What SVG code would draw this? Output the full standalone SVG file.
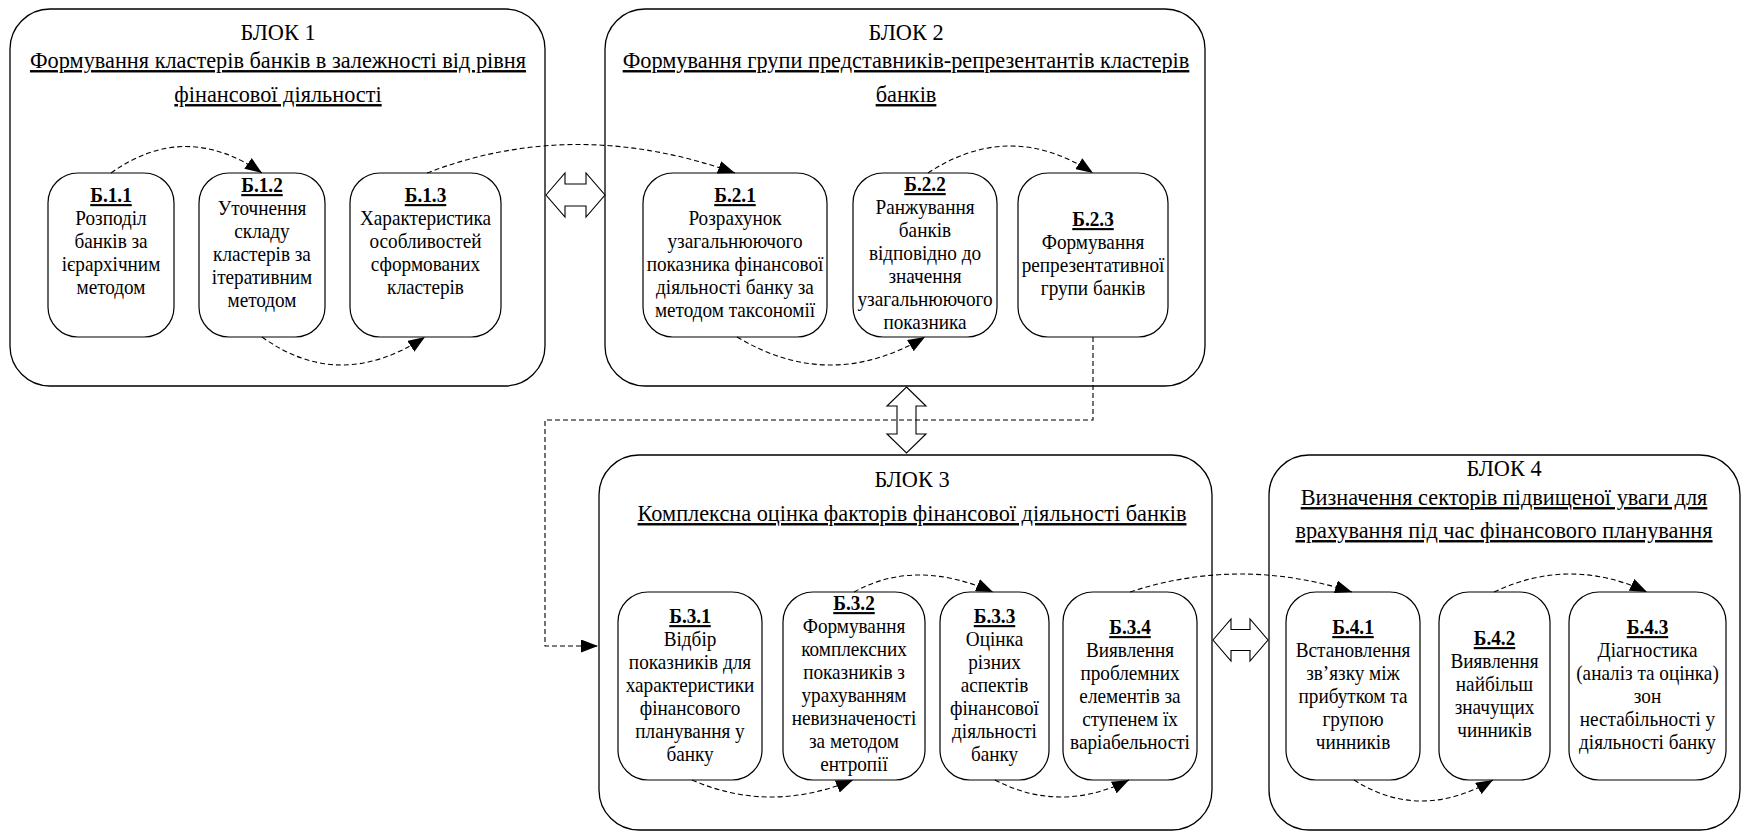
<svg xmlns="http://www.w3.org/2000/svg" width="1743" height="832" viewBox="0 0 1743 832">
<style>
.blk{fill:#fff;stroke:#000;stroke-width:1.3}
.nd{fill:#fff;stroke:#000;stroke-width:1.2}
.dbl{fill:#fff;stroke:#000;stroke-width:1.1}
.t{font-family:"Liberation Serif","Times New Roman",serif;fill:#000;text-anchor:middle}
.bt{font-size:24px}
.ul{text-decoration:underline}
.nt{font-size:21px}
.b{font-weight:bold;text-decoration:underline}
.cn{fill:none;stroke:#000;stroke-width:1.1;stroke-dasharray:5,3}
</style>
<defs>
<marker id="ah" markerUnits="userSpaceOnUse" markerWidth="17" markerHeight="13" refX="17" refY="6.5" orient="auto">
<path d="M0,0 L17,6.5 L0,13 z" fill="#000"/>
</marker>
</defs>
<rect width="1743" height="832" fill="#fff"/>

<g id="block1">
<rect class="blk" x="10" y="9" width="535" height="377" rx="40" ry="40"/>
<text class="t bt" transform="translate(278 0) scale(0.93 1)" x="0" y="40">БЛОК 1</text>
<text class="t bt ul" transform="translate(278 0) scale(0.93 1)" x="0" y="68">Формування кластерів банків в залежності від рівня</text>
<text class="t bt ul" transform="translate(278 0) scale(0.93 1)" x="0" y="102">фінансової діяльності</text>
</g>
<g id="block2">
<rect class="blk" x="605" y="9" width="600" height="377" rx="40" ry="40"/>
<text class="t bt" transform="translate(906 0) scale(0.93 1)" x="0" y="40">БЛОК 2</text>
<text class="t bt ul" transform="translate(906 0) scale(0.93 1)" x="0" y="68">Формування групи представників-репрезентантів кластерів</text>
<text class="t bt ul" transform="translate(906 0) scale(0.93 1)" x="0" y="102">банків</text>
</g>
<g id="block3">
<rect class="blk" x="599" y="455" width="613" height="375" rx="40" ry="40"/>
<text class="t bt" transform="translate(912 0) scale(0.93 1)" x="0" y="487">БЛОК 3</text>
<text class="t bt ul" transform="translate(912 0) scale(0.93 1)" x="0" y="521">Комплексна оцінка факторів фінансової діяльності банків</text>
</g>
<g id="block4">
<rect class="blk" x="1269" y="455" width="471" height="375" rx="40" ry="40"/>
<text class="t bt" transform="translate(1504 0) scale(0.93 1)" x="0" y="476">БЛОК 4</text>
<text class="t bt ul" transform="translate(1504 0) scale(0.93 1)" x="0" y="505">Визначення секторів підвищеної уваги для</text>
<text class="t bt ul" transform="translate(1504 0) scale(0.93 1)" x="0" y="538">врахування під час фінансового планування</text>
</g>

<g id="arrows-double">
<polygon class="dbl" points="546,195 565,173 565,184 586,184 586,173 605,195 586,217 586,206 565,206 565,217"/>
<polygon class="dbl" points="906.5,387 926,406 916,406 916,434 926,434 906.5,453 887,434 897,434 897,406 887,406"/>
<polygon class="dbl" points="1213,640 1231,619 1231,629.5 1250,629.5 1250,619 1268,640 1250,661 1250,650.5 1231,650.5 1231,661"/>
</g>

<g id="n-b11">
<rect class="nd" x="48" y="173" width="126" height="164" rx="30" ry="30"/>
<text class="t nt" transform="translate(111 0) scale(0.915 1)" x="0" y="202"><tspan class="b">Б.1.1</tspan><tspan x="0" dy="23">Розподіл</tspan><tspan x="0" dy="23">банків за</tspan><tspan x="0" dy="23">ієрархічним</tspan><tspan x="0" dy="23">методом</tspan></text>
</g>
<g id="n-b12">
<rect class="nd" x="199" y="173" width="126" height="164" rx="30" ry="30"/>
<text class="t nt" transform="translate(262 0) scale(0.915 1)" x="0" y="192"><tspan class="b">Б.1.2</tspan><tspan x="0" dy="23">Уточнення</tspan><tspan x="0" dy="23">складу</tspan><tspan x="0" dy="23">кластерів за</tspan><tspan x="0" dy="23">ітеративним</tspan><tspan x="0" dy="23">методом</tspan></text>
</g>
<g id="n-b13">
<rect class="nd" x="350" y="173" width="151" height="164" rx="30" ry="30"/>
<text class="t nt" transform="translate(425.5 0) scale(0.915 1)" x="0" y="202"><tspan class="b">Б.1.3</tspan><tspan x="0" dy="23">Характеристика</tspan><tspan x="0" dy="23">особливостей</tspan><tspan x="0" dy="23">сформованих</tspan><tspan x="0" dy="23">кластерів</tspan></text>
</g>
<g id="n-b21">
<rect class="nd" x="643" y="173" width="184" height="164" rx="30" ry="30"/>
<text class="t nt" transform="translate(735 0) scale(0.915 1)" x="0" y="202"><tspan class="b">Б.2.1</tspan><tspan x="0" dy="23">Розрахунок</tspan><tspan x="0" dy="23">узагальнюючого</tspan><tspan x="0" dy="23">показника фінансової</tspan><tspan x="0" dy="23">діяльності банку за</tspan><tspan x="0" dy="23">методом таксономії</tspan></text>
</g>
<g id="n-b22">
<rect class="nd" x="853" y="173" width="144" height="164" rx="30" ry="30"/>
<text class="t nt" transform="translate(925 0) scale(0.915 1)" x="0" y="191"><tspan class="b">Б.2.2</tspan><tspan x="0" dy="23">Ранжування</tspan><tspan x="0" dy="23">банків</tspan><tspan x="0" dy="23">відповідно до</tspan><tspan x="0" dy="23">значення</tspan><tspan x="0" dy="23">узагальнюючого</tspan><tspan x="0" dy="23">показника</tspan></text>
</g>
<g id="n-b23">
<rect class="nd" x="1018" y="173" width="150" height="164" rx="30" ry="30"/>
<text class="t nt" transform="translate(1093 0) scale(0.915 1)" x="0" y="226"><tspan class="b">Б.2.3</tspan><tspan x="0" dy="23">Формування</tspan><tspan x="0" dy="23">репрезентативної</tspan><tspan x="0" dy="23">групи банків</tspan></text>
</g>
<g id="n-b31">
<rect class="nd" x="618" y="592" width="144" height="188" rx="30" ry="30"/>
<text class="t nt" transform="translate(690 0) scale(0.915 1)" x="0" y="623"><tspan class="b">Б.3.1</tspan><tspan x="0" dy="23">Відбір</tspan><tspan x="0" dy="23">показників для</tspan><tspan x="0" dy="23">характеристики</tspan><tspan x="0" dy="23">фінансового</tspan><tspan x="0" dy="23">планування у</tspan><tspan x="0" dy="23">банку</tspan></text>
</g>
<g id="n-b32">
<rect class="nd" x="783" y="592" width="142" height="188" rx="30" ry="30"/>
<text class="t nt" transform="translate(854 0) scale(0.915 1)" x="0" y="610"><tspan class="b">Б.3.2</tspan><tspan x="0" dy="23">Формування</tspan><tspan x="0" dy="23">комплексних</tspan><tspan x="0" dy="23">показників з</tspan><tspan x="0" dy="23">урахуванням</tspan><tspan x="0" dy="23">невизначеності</tspan><tspan x="0" dy="23">за методом</tspan><tspan x="0" dy="23">ентропії</tspan></text>
</g>
<g id="n-b33">
<rect class="nd" x="940" y="592" width="109" height="188" rx="30" ry="30"/>
<text class="t nt" transform="translate(994.5 0) scale(0.915 1)" x="0" y="623"><tspan class="b">Б.3.3</tspan><tspan x="0" dy="23">Оцінка</tspan><tspan x="0" dy="23">різних</tspan><tspan x="0" dy="23">аспектів</tspan><tspan x="0" dy="23">фінансової</tspan><tspan x="0" dy="23">діяльності</tspan><tspan x="0" dy="23">банку</tspan></text>
</g>
<g id="n-b34">
<rect class="nd" x="1063" y="592" width="134" height="188" rx="30" ry="30"/>
<text class="t nt" transform="translate(1130 0) scale(0.915 1)" x="0" y="634"><tspan class="b">Б.3.4</tspan><tspan x="0" dy="23">Виявлення</tspan><tspan x="0" dy="23">проблемних</tspan><tspan x="0" dy="23">елементів за</tspan><tspan x="0" dy="23">ступенем їх</tspan><tspan x="0" dy="23">варіабельності</tspan></text>
</g>
<g id="n-b41">
<rect class="nd" x="1286" y="592" width="134" height="188" rx="30" ry="30"/>
<text class="t nt" transform="translate(1353 0) scale(0.915 1)" x="0" y="634"><tspan class="b">Б.4.1</tspan><tspan x="0" dy="23">Встановлення</tspan><tspan x="0" dy="23">зв’язку між</tspan><tspan x="0" dy="23">прибутком та</tspan><tspan x="0" dy="23">групою</tspan><tspan x="0" dy="23">чинників</tspan></text>
</g>
<g id="n-b42">
<rect class="nd" x="1439" y="592" width="111" height="188" rx="30" ry="30"/>
<text class="t nt" transform="translate(1494.5 0) scale(0.915 1)" x="0" y="645"><tspan class="b">Б.4.2</tspan><tspan x="0" dy="23">Виявлення</tspan><tspan x="0" dy="23">найбільш</tspan><tspan x="0" dy="23">значущих</tspan><tspan x="0" dy="23">чинників</tspan></text>
</g>
<g id="n-b43">
<rect class="nd" x="1569" y="592" width="157" height="188" rx="30" ry="30"/>
<text class="t nt" transform="translate(1647.5 0) scale(0.915 1)" x="0" y="634"><tspan class="b">Б.4.3</tspan><tspan x="0" dy="23">Діагностика</tspan><tspan x="0" dy="23">(аналіз та оцінка)</tspan><tspan x="0" dy="23">зон</tspan><tspan x="0" dy="23">нестабільності у</tspan><tspan x="0" dy="23">діяльності банку</tspan></text>
</g>

<g id="connectors">
<path class="cn" marker-end="url(#ah)" d="M111,173 Q185,120 262,173"/>
<path class="cn" marker-end="url(#ah)" d="M262,337 Q340,393 425,337"/>
<path class="cn" marker-end="url(#ah)" d="M427,173 Q575,116 735,173"/>
<path class="cn" marker-end="url(#ah)" d="M737,337 Q830,393 925,337"/>
<path class="cn" marker-end="url(#ah)" d="M928,173 Q1010,119 1093,173"/>
<path class="cn" marker-end="url(#ah)" d="M1093,337 L1093,420 L545,420 L545,646 L598,646"/>
<path class="cn" marker-end="url(#ah)" d="M692,780 Q770,814 853,780"/>
<path class="cn" marker-end="url(#ah)" d="M854,592 Q915,558 993,592"/>
<path class="cn" marker-end="url(#ah)" d="M995,780 Q1060,814 1129,780"/>
<path class="cn" marker-end="url(#ah)" d="M1130,592 Q1240,556 1352,592"/>
<path class="cn" marker-end="url(#ah)" d="M1354,780 Q1420,822 1493,780"/>
<path class="cn" marker-end="url(#ah)" d="M1494,592 Q1570,556 1647,592"/>
</g>
</svg>
